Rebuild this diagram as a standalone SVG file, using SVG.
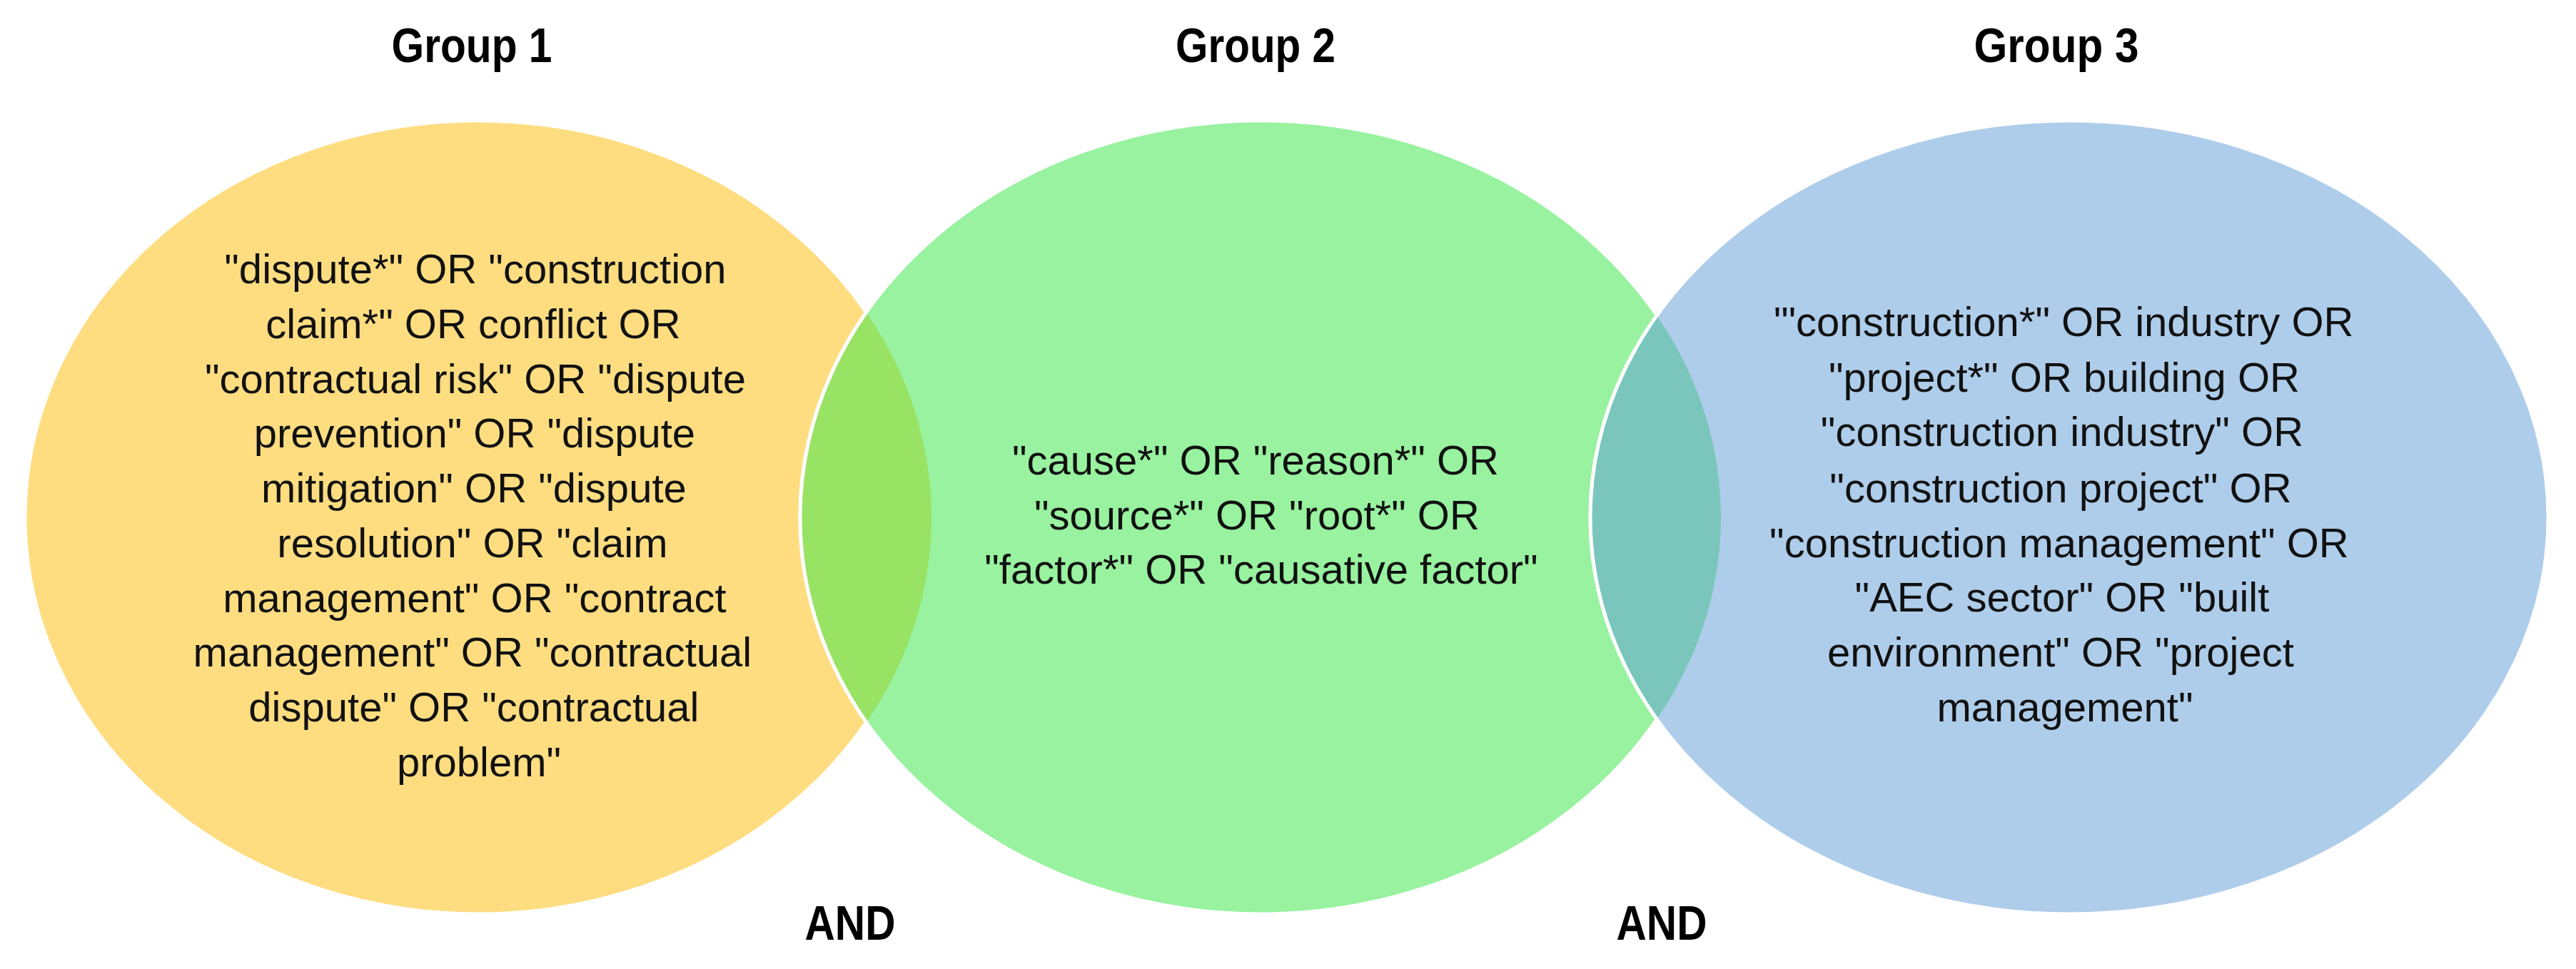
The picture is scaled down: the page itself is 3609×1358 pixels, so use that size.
<svg xmlns="http://www.w3.org/2000/svg" width="3609" height="1358" viewBox="0 0 3609 1358">
<style>
.title{font-family:"Liberation Sans",Arial,sans-serif;font-weight:bold;font-size:68px;fill:#000;text-anchor:middle}
.body{font-family:"Liberation Sans",Arial,sans-serif;font-size:58px;fill:#111;text-anchor:middle}
.ring{stroke:#fff;stroke-width:5}
</style>
<defs>
<clipPath id="c1"><ellipse cx="670" cy="725" rx="635" ry="556"/></clipPath>
<clipPath id="c2"><ellipse cx="1766" cy="725" rx="645" ry="556"/></clipPath>
<clipPath id="c3"><ellipse cx="2899" cy="725" rx="671" ry="556"/></clipPath>
</defs>
<rect width="3609" height="1358" fill="#fff"/>
<g id="shapes">
<ellipse class="ring" cx="670" cy="725" rx="635" ry="556" fill="#FEDD81"/>
<ellipse class="ring" cx="1766" cy="725" rx="645" ry="556" fill="#98F29F"/>
<ellipse class="ring" cx="2899" cy="725" rx="671" ry="556" fill="#AECDEA"/>
<ellipse cx="1766" cy="725" rx="645" ry="556" fill="#98E264" clip-path="url(#c1)"/>
<ellipse cx="2899" cy="725" rx="671" ry="556" fill="#7AC6BC" clip-path="url(#c2)"/>
<ellipse cx="1766" cy="725" rx="645" ry="556" fill="none" stroke="#fff" stroke-width="5" clip-path="url(#c1)"/>
<ellipse cx="2899" cy="725" rx="671" ry="556" fill="none" stroke="#fff" stroke-width="5" clip-path="url(#c2)"/>
</g>
<g id="group1">
<text class="title" x="661" y="87" textLength="225" lengthAdjust="spacingAndGlyphs">Group 1</text>
<text class="body" x="674">
<tspan x="674" y="397">"dispute*" OR "construction</tspan>
<tspan x="671" y="474">claim*" OR conflict OR</tspan>
<tspan x="674" y="551">"contractual risk" OR "dispute</tspan>
<tspan x="673" y="627">prevention" OR "dispute</tspan>
<tspan x="672" y="704">mitigation" OR "dispute</tspan>
<tspan x="670" y="781">resolution" OR "claim</tspan>
<tspan x="673" y="858">management" OR "contract</tspan>
<tspan x="670" y="934">management" OR "contractual</tspan>
<tspan x="672" y="1011">dispute" OR "contractual</tspan>
<tspan x="671" y="1088">problem"</tspan>
</text>
</g>
<g id="group2">
<text class="title" x="1759" y="87" textLength="224" lengthAdjust="spacingAndGlyphs">Group 2</text>
<text class="body">
<tspan x="1767" y="665">"cause*" OR "reason*" OR</tspan>
<tspan x="1769" y="742">"source*" OR "root*" OR</tspan>
<tspan x="1767" y="818">"factor*" OR "causative factor"</tspan>
</text>
</g>
<g id="group3">
<text class="title" x="2881" y="87" textLength="231" lengthAdjust="spacingAndGlyphs">Group 3</text>
<text class="body">
<tspan x="2899" y="471">'"construction*" OR industry OR</tspan>
<tspan x="2900" y="549">"project*" OR building OR</tspan>
<tspan x="2897" y="625">"construction industry" OR</tspan>
<tspan x="2895" y="704">"construction project" OR</tspan>
<tspan x="2893" y="781">"construction management" OR</tspan>
<tspan x="2897" y="857">"AEC sector" OR "built</tspan>
<tspan x="2895" y="934">environment" OR "project</tspan>
<tspan x="2893" y="1011">management"</tspan>
</text>
</g>
<g id="labels">
<text class="title" x="1191" y="1317" textLength="127" lengthAdjust="spacingAndGlyphs">AND</text>
<text class="title" x="2328" y="1317" textLength="127" lengthAdjust="spacingAndGlyphs">AND</text>
</g>
</svg>
